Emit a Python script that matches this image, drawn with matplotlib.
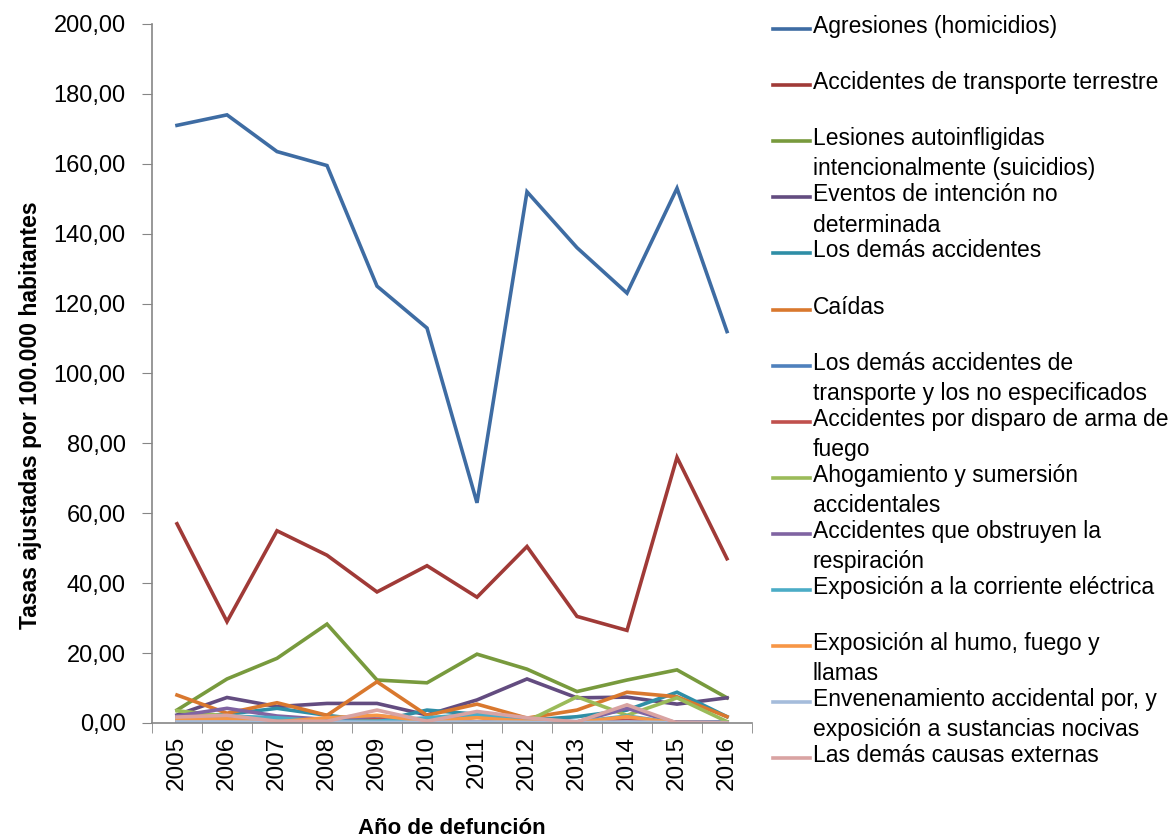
import numpy as np
import matplotlib.pyplot as plt
from matplotlib.lines import Line2D
from matplotlib.ticker import FuncFormatter, MultipleLocator
from matplotlib import font_manager

# pick a narrow font if available
names = {f.name for f in font_manager.fontManager.ttflist}
base_font = 'Liberation Sans Narrow' if 'Liberation Sans Narrow' in names else 'Liberation Sans'
plt.rcParams['font.family'] = [base_font, 'DejaVu Sans']

years = ['2005', '2006', '2007', '2008', '2009', '2010',
         '2011', '2012', '2013', '2014', '2015', '2016']

agresiones = [171, 174, 163.5, 159.5, 125, 113, 63, 152, 136, 123, 153, 112]
transporte_terrestre = [57, 29, 55, 48, 37.5, 45, 36, 50.5, 30.5, 26.5, 76, 47]
suicidios = [3.7, 12.6, 18.5, 28.3, 12.3, 11.5, 19.7, 15.4, 9.0, 12.3, 15.2, 7.2]
intencion_no_det = [2.3, 7.3, 4.7, 5.6, 5.6, 2.3, 6.6, 12.6, 7.2, 7.4, 5.4, 7.2]
demas_accidentes = [1.8, 2.5, 4.2, 2.2, 0.5, 3.7, 2.5, 0.8, 1.8, 3.7, 8.8, 1.8]
caidas = [8.0, 2.8, 5.8, 2.2, 11.8, 2.2, 5.4, 1.4, 3.7, 8.8, 7.5, 1.8]
demas_transporte = [0.5, 0.8, 0.4, 0.5, 0.3, 0.5, 0.3, 0.6, 0.4, 0.3, 0.2, 0.3]
disparo = [0.3, 0.3, 0.2, 0.4, 1.0, 0.2, 0.3, 0.2, 0.2, 0.8, 0.2, 0.1]
ahogamiento = [3.5, 2.0, 0.8, 0.3, 0.5, 0.5, 1.7, 0.5, 7.5, 2.2, 7.2, 0.4]
obstruyen = [2.0, 4.2, 2.0, 1.0, 2.0, 1.0, 2.8, 1.0, 0.3, 4.2, 0.0, 0.0]
corriente = [1.2, 2.0, 1.5, 0.5, 0.5, 1.5, 2.5, 0.5, 0.3, 2.0, 0.0, 0.0]
humo = [1.0, 1.2, 0.3, 1.5, 2.2, 0.5, 1.5, 0.5, 0.2, 1.8, 0.0, 0.0]
envenenamiento = [0.3, 0.3, 0.2, 0.3, 0.2, 0.2, 0.3, 0.2, 0.1, 0.3, 0.1, 0.1]
demas_causas = [1.7, 2.2, 0.5, 0.5, 3.7, 0.5, 3.3, 1.5, 0.3, 5.2, 0.0, 0.0]

labels = [
    'Agresiones (homicidios)',
    'Accidentes de transporte terrestre',
    'Lesiones autoinfligidas\nintencionalmente (suicidios)',
    'Eventos de intención no\ndeterminada',
    'Los demás accidentes',
    'Caídas',
    'Los demás accidentes de\ntransporte y los no especificados',
    'Accidentes por disparo de arma de\nfuego',
    'Ahogamiento y sumersión\naccidentales',
    'Accidentes que obstruyen la\nrespiración',
    'Exposición a la corriente eléctrica',
    'Exposición al humo, fuego y\nllamas',
    'Envenenamiento accidental por, y\nexposición a sustancias nocivas',
    'Las demás causas externas',
]
series = [agresiones, transporte_terrestre, suicidios, intencion_no_det,
          demas_accidentes, caidas, demas_transporte, disparo, ahogamiento,
          obstruyen, corriente, humo, envenenamiento, demas_causas]
colors = ['#3E6CA3', '#A03A37', '#789A3D', '#634C80', '#2F8EA6', '#D9782E',
          '#4F81BD', '#C0504D', '#9BBB59', '#8064A2', '#4BACC6', '#F79646',
          '#A5BCDB', '#D9A3A2']

fig = plt.figure(figsize=(11.7, 8.4), dpi=100)
ax = fig.add_axes([152 / 1170, 117 / 840, 600 / 1170, 699 / 840])

x = np.arange(len(years))
for vals, col in zip(series, colors):
    ax.plot(x, vals, color=col, lw=2.6, solid_joinstyle='miter')

ax.set_xlim(-0.5, len(years) - 0.5)
ax.set_ylim(0, 200)
ax.yaxis.set_major_locator(MultipleLocator(20))
ax.yaxis.set_major_formatter(FuncFormatter(lambda v, p: f'{v:.2f}'.replace('.', ',')))
ax.set_xticks(x)
ax.set_xticklabels(years, rotation=90)
ax.set_xticks(np.arange(-0.5, len(years)), minor=True)
ax.tick_params(axis='x', which='major', length=0, pad=9, labelsize=17.5)
ax.tick_params(axis='x', which='minor', length=7, color='#868686', direction='out')
ax.tick_params(axis='y', length=7, color='#868686', labelsize=17, pad=12)

for s in ['top', 'right']:
    ax.spines[s].set_visible(False)
for s in ['left', 'bottom']:
    ax.spines[s].set_color('#868686')
    ax.spines[s].set_linewidth(1.2)

ax.set_ylabel('Tasas ajustadas por 100.000 habitantes', fontsize=16.5,
              fontweight='bold', va='center')
ax.yaxis.set_label_coords(-0.203, 0.44)
ax.set_xlabel('Año de defunción', fontsize=16, fontweight='bold', labelpad=20)

# legend drawn entry by entry so the line sits beside the first text line
W, H = 1170, 840
for i, (lab, col) in enumerate(zip(labels, colors)):
    yc = 29 + 56.1 * i
    fig.add_artist(Line2D([773 / W, 810 / W], [1 - yc / H, 1 - yc / H],
                          color=col, lw=2.6, transform=fig.transFigure))
    fig.text(813 / W, 1 - (yc - 14) / H, lab, fontsize=16.5, va='top',
             ha='left', linespacing=1.4)

fig.savefig('out.png', dpi=100)
